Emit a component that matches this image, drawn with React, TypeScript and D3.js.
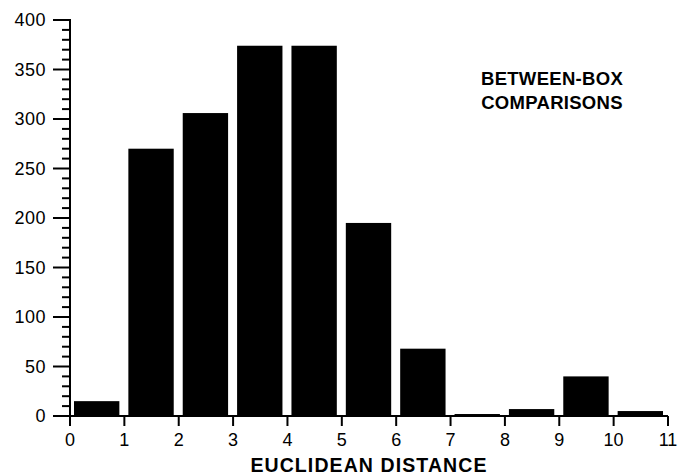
import React, { useMemo } from "react";
import * as d3 from "d3";

// histogram bins (distance from, count)
const binStarts = [0, 1, 2, 3, 4, 5, 6, 7, 8, 9, 10];
const counts = [15, 270, 306, 374, 374, 195, 68, 2, 7, 40, 5];
const xTickValues = [0, 1, 2, 3, 4, 5, 6, 7, 8, 9, 10, 11];
const yMajorTicks = [0, 50, 100, 150, 200, 250, 300, 350, 400];
const annotationLines = ["BETWEEN-BOX", "COMPARISONS"];
const xTitle = "EUCLIDEAN DISTANCE";

const width = 680;
const height = 476;
const font = "'Liberation Sans', Arial, Helvetica, sans-serif";

export default function App() {
  const x = useMemo(() => d3.scaleLinear().domain([0, 11]).range([70, 668]), []);
  const y = useMemo(() => d3.scaleLinear().domain([0, 400]).range([416, 20]), []);
  const minorTicks = d3.range(0, 401, 10).filter((v) => v % 50 !== 0);

  return (
    <svg
      width={width}
      height={height}
      style={{ position: "absolute", left: 0, top: 0, background: "#fff" }}
      fontFamily={font}
    >
      <g className="bars">
        {binStarts.map((b, i) => (
          <rect
            key={i}
            x={x(b) + 4}
            y={y(counts[i])}
            width={x(b + 1) - x(b) - 9}
            height={y(0) - y(counts[i])}
            fill="#000"
          />
        ))}
      </g>

      <g className="y-axis" stroke="#000" strokeWidth={2}>
        <line x1={x(0)} x2={x(0)} y1={y(400) - 1} y2={y(0) + 10} />
        {yMajorTicks.map((t) => (
          <line key={t} x1={x(0) - 17} x2={x(0)} y1={y(t)} y2={y(t)} />
        ))}
        {minorTicks.map((t) => (
          <line key={t} x1={x(0) - 8} x2={x(0)} y1={y(t)} y2={y(t)} />
        ))}
      </g>
      <g className="y-labels" fontSize={18} textAnchor="end">
        {yMajorTicks.map((t) => (
          <text key={t} x={x(0) - 24} y={y(t)} dy="0.36em" letterSpacing={0.5}>
            {t}
          </text>
        ))}
      </g>

      <g className="x-axis" stroke="#000" strokeWidth={2}>
        <line x1={x(0)} x2={x(11)} y1={y(0)} y2={y(0)} />
        {xTickValues.map((t) => (
          <line key={t} x1={x(t)} x2={x(t)} y1={y(0)} y2={y(0) + 10} />
        ))}
      </g>
      <g className="x-labels" fontSize={18} textAnchor="middle">
        {xTickValues.map((t) => (
          <text key={t} x={x(t)} y={y(0) + 30}>
            {t}
          </text>
        ))}
      </g>

      <text
        x={(x(0) + x(11)) / 2}
        y={472}
        textAnchor="middle"
        fontSize={19.5}
        fontWeight="bold"
        letterSpacing={1.1}
      >
        {xTitle}
      </text>

      <g className="annotation" fontSize={18.5} fontWeight="bold" textAnchor="middle">
        {annotationLines.map((line, i) => (
          <text key={i} x={552} y={85 + i * 24} letterSpacing={0.3}>
            {line}
          </text>
        ))}
      </g>
    </svg>
  );
}
